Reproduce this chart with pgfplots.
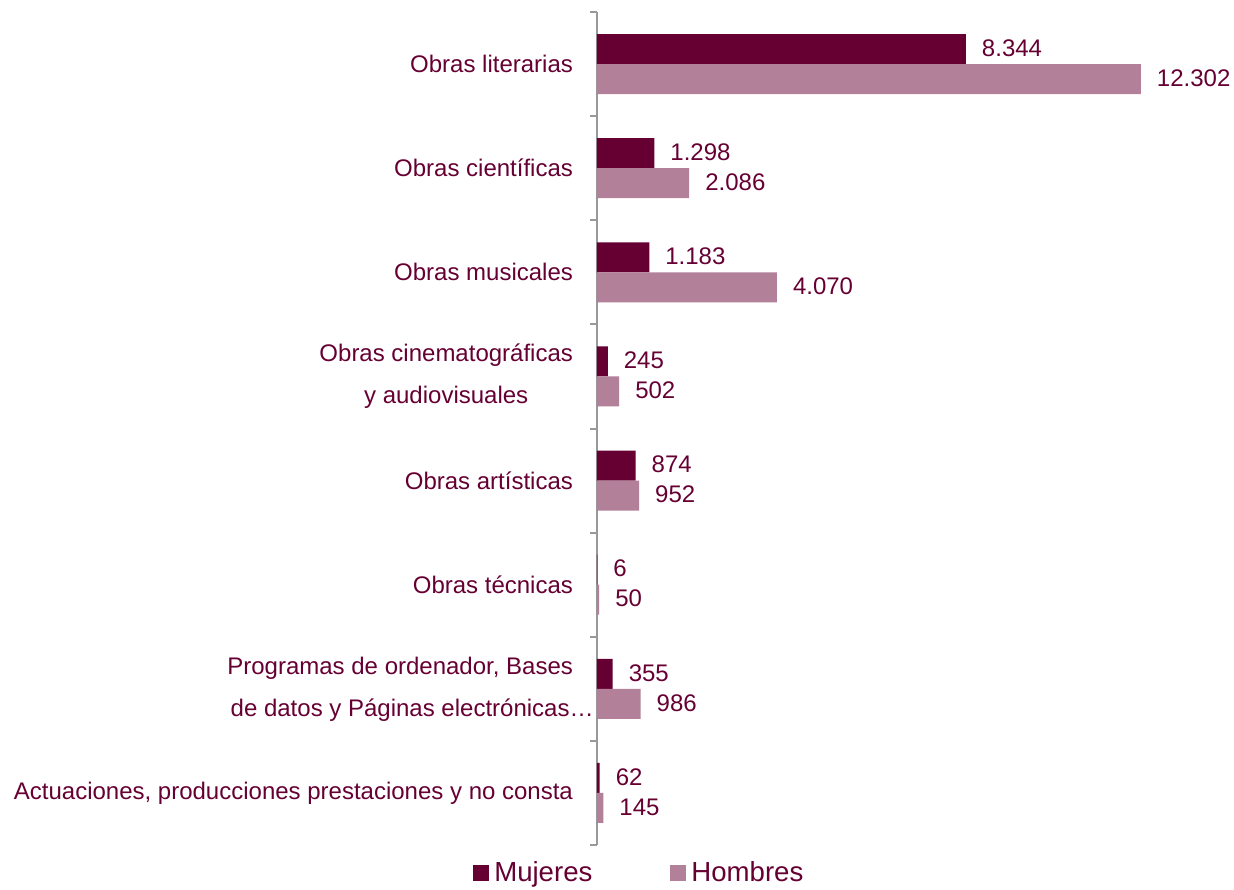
\documentclass[border=0pt]{standalone}
\usepackage{pgfplots}
\pgfplotsset{compat=1.18}
\usepackage{fontspec}
\setmainfont{Liberation Sans}
\definecolor{muj}{HTML}{660033}
\definecolor{hom}{HTML}{B28098}
\definecolor{txt}{HTML}{660033}
\definecolor{axg}{HTML}{999999}
\begin{document}
\begin{tikzpicture}[font=\fontsize{12pt}{14.4pt}\selectfont]
\path[use as bounding box] (-298.5pt,-22pt) rectangle (318.5pt,422.5pt);
\begin{axis}[
  at={(0,0)}, anchor=south west,
  scale only axis, width=309.5pt, height=416.5pt,
  xbar, bar width=15pt,
  xmin=0, xmax=14000,
  ymin=-0.5, ymax=7.5, y dir=reverse,
  axis x line=none,
  axis y line*=left,
  y axis line style={draw=axg, line width=1pt},
  ytick={0,...,7},
  yticklabels={Obras literarias, Obras científicas, Obras musicales, {Obras cinematográficas\\y audiovisuales}, Obras artísticas, Obras técnicas, {Programas de ordenador, Bases\\de datos y Páginas electrónicas\rlap{…}}, {Actuaciones, producciones prestaciones y no consta}},
  yticklabel style={align=center, text=txt, font=\fontsize{12pt}{21pt}\selectfont, xshift=-8.5pt},
  major tick length=0pt,
  minor ytick={-0.5,0.5,...,7.5},
  minor tick length=3.5pt,
  minor tick style={draw=axg, line width=1pt},
  tick align=outside,
  nodes near coords,
  point meta=explicit symbolic,
  nodes near coords style={text=txt, anchor=west, xshift=4.5pt, yshift=0.5pt, font=\fontsize{12pt}{14.4pt}\selectfont},
  legend style={at={(axis description cs:0.07,-0.0336)}, anchor=center, draw=none, legend columns=2, font=\fontsize{13.8pt}{16pt}\selectfont, text=txt,
    /tikz/every even column/.append style={column sep=37pt},
    /tikz/every odd column/.append style={column sep=0.5pt}},
  clip=false,
]
\addplot[fill=muj, draw=none, bar shift=7.5pt,
  legend image code/.code={\fill[muj] (0pt,-4pt) rectangle (8pt,4pt);}]
  coordinates {(8344,0)[8.344] (1298,1)[1.298] (1183,2)[1.183] (245,3)[245] (874,4)[874] (6,5)[6] (355,6)[355] (62,7)[62]};
\addplot[fill=hom, draw=none, bar shift=-7.5pt,
  legend image code/.code={\fill[hom] (0pt,-4pt) rectangle (8pt,4pt);}]
  coordinates {(12302,0)[12.302] (2086,1)[2.086] (4070,2)[4.070] (502,3)[502] (952,4)[952] (50,5)[50] (986,6)[986] (145,7)[145]};
\legend{Mujeres, Hombres}
\end{axis}
\end{tikzpicture}
\end{document}
